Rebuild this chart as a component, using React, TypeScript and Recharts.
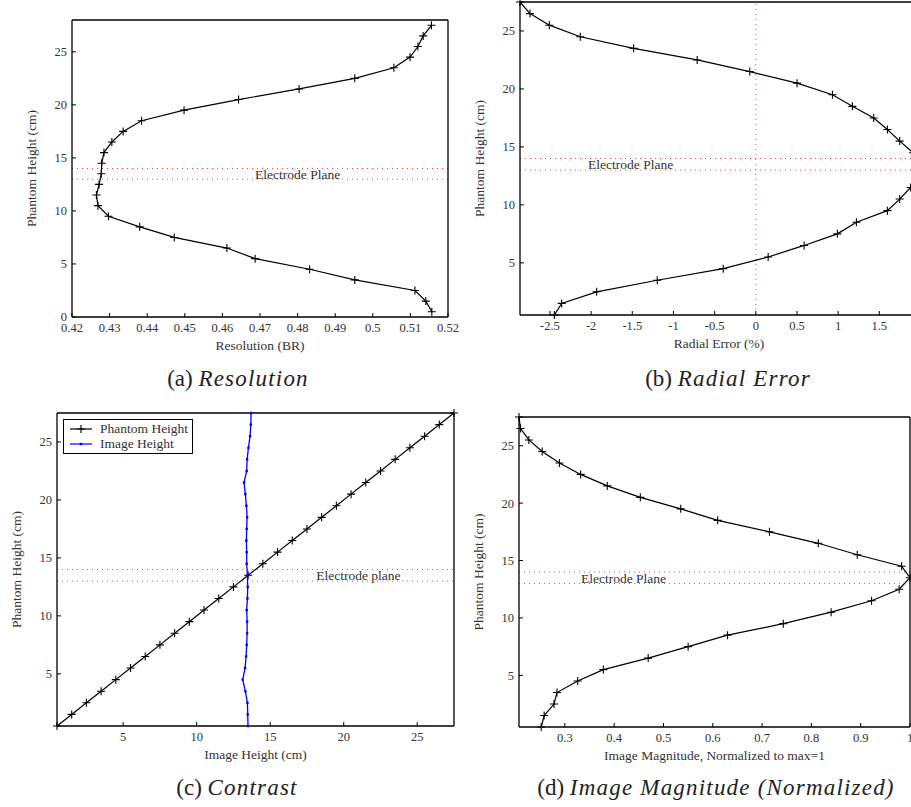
import { ScatterChart, Scatter, XAxis, YAxis, ReferenceLine, ReferenceDot, Legend } from 'recharts';

// phantom heights (cm), bottom to top
const heights = [
  0.5, 1.5, 2.5, 3.5, 4.5, 5.5, 6.5, 7.5, 8.5, 9.5, 10.5, 11.5, 12.5, 13.5,
  14.5, 15.5, 16.5, 17.5, 18.5, 19.5, 20.5, 21.5, 22.5, 23.5, 24.5, 25.5, 26.5, 27.5,
];

const resolution = [
  0.5157, 0.5141, 0.5112, 0.4952, 0.4832, 0.4687, 0.4612, 0.4472, 0.438, 0.4297,
  0.4269, 0.4265, 0.4272, 0.4278, 0.4279, 0.4285, 0.4306, 0.4336, 0.4385, 0.4498,
  0.4643, 0.4804, 0.4952, 0.5056, 0.5099, 0.512, 0.5134, 0.5156,
];

const radialError = [
  -2.447, -2.358, -1.933, -1.197, -0.396, 0.15, 0.587, 0.991, 1.222, 1.598,
  1.748, 1.88, 1.95, 1.97, 1.91, 1.748, 1.598, 1.432, 1.173, 0.931,
  0.501, -0.073, -0.712, -1.484, -2.132, -2.508, -2.743, -2.864,
];

const imageHeight = [
  13.49, 13.47, 13.45, 13.31, 13.13, 13.29, 13.36, 13.4, 13.43, 13.43,
  13.4, 13.45, 13.47, 13.45, 13.4, 13.4, 13.38, 13.4, 13.43, 13.38,
  13.31, 13.22, 13.4, 13.43, 13.52, 13.63, 13.68, 13.7,
];

const magnitude = [
  0.252, 0.258, 0.278, 0.284, 0.326, 0.378, 0.469, 0.55, 0.63, 0.743,
  0.84, 0.922, 0.978, 1.0, 0.983, 0.893, 0.814, 0.715, 0.61, 0.535,
  0.453, 0.386, 0.332, 0.289, 0.254, 0.227, 0.21, 0.207,
];

const heightTicks = [5, 10, 15, 20, 25];
const heightTicksA = [0, 5, 10, 15, 20, 25];
const resolutionTicks = [0.42, 0.43, 0.44, 0.45, 0.46, 0.47, 0.48, 0.49, 0.5, 0.51, 0.52];
const radialTicks = [-2.5, -2, -1.5, -1, -0.5, 0, 0.5, 1, 1.5];
const contrastTicks = [5, 10, 15, 20, 25];
const magnitudeTicks = [0.3, 0.4, 0.5, 0.6, 0.7, 0.8, 0.9, 1];
const contrastSeries = ['Phantom Height', 'Image Height'];

const FONT = '"Liberation Serif", "DejaVu Serif", serif';
const RED = '#ff4040';
const axisLine = { stroke: '#000', strokeWidth: 1.3 };
const tickLine = { stroke: '#000', strokeWidth: 1 };
const tickFont = { fontSize: 12.5, fill: '#333', fontFamily: FONT };

const toPoints = (xs: number[]) => xs.map((v, i) => ({ x: v, y: heights[i] }));

const Plus = (props: any) => {
  const { cx, cy } = props;
  if (cx == null || cy == null) return null;
  return (
    <path
      d={`M${cx - 4},${cy}H${cx + 4}M${cx},${cy - 4}V${cy + 4}`}
      stroke="#000"
      strokeWidth={1.1}
      fill="none"
    />
  );
};

const Dot = (props: any) => {
  const { cx, cy } = props;
  if (cx == null || cy == null) return null;
  return <rect x={cx - 1.2} y={cy - 1.2} width={2.4} height={2.4} fill="#0000ff" />;
};

const LegendBox = (props: any) => {
  const items = [...(props.payload || [])].sort(
    (a: any, b: any) => contrastSeries.indexOf(a.value) - contrastSeries.indexOf(b.value)
  );
  return (
    <div
      style={{
        border: '1.3px solid #000',
        background: '#fff',
        padding: '1px 4px 2px 6px',
        fontFamily: FONT,
        fontSize: 13.5,
        color: '#333',
        lineHeight: '15px',
      }}
    >
      {items.map((it: any) => (
        <div key={it.value} style={{ display: 'flex', alignItems: 'center' }}>
          <svg width={22} height={12} style={{ marginRight: 8 }}>
            <line x1={0} x2={22} y1={6} y2={6} stroke={it.color} strokeWidth={1.2} />
            {it.color === '#000' ? (
              <path d="M7,6H15M11,2V10" stroke="#000" strokeWidth={1.1} />
            ) : (
              <rect x={9.8} y={4.8} width={2.4} height={2.4} fill={it.color} />
            )}
          </svg>
          <span>{it.value}</span>
        </div>
      ))}
    </div>
  );
};

interface PanelProps {
  left: number;
  top: number;
  width: number;
  height: number;
  margin: { top: number; right: number; bottom: number; left: number };
  xDomain: number[];
  yDomain: number[];
  xTicks: number[];
  yTicks: number[];
  xLabel: string;
  planeLabel: string;
  planeX: number;
  zeroLine?: boolean;
  children?: any;
  legend?: boolean;
}

// axes are 1px thick, so margins are shrunk by 1 to keep the plot box in place
function Panel(p: PanelProps) {
  const m = {
    top: p.margin.top - 1,
    right: p.margin.right - 1,
    bottom: p.margin.bottom - 1,
    left: p.margin.left - 1,
  };
  return (
    <div style={{ position: 'absolute', left: p.left, top: p.top }}>
      <ScatterChart width={p.width} height={p.height} margin={m}>
        <XAxis
          type="number"
          dataKey="x"
          domain={p.xDomain}
          ticks={p.xTicks}
          interval={0}
          height={1}
          tickSize={-4}
          tickMargin={10}
          axisLine={axisLine}
          tickLine={tickLine}
          tick={tickFont}
          tickFormatter={(v: number) => String(v)}
          label={{
            value: p.xLabel,
            position: 'bottom',
            offset: 22,
            fill: '#333',
            fontSize: 13.5,
            fontFamily: FONT,
          }}
        />
        <YAxis
          type="number"
          dataKey="y"
          domain={p.yDomain}
          ticks={p.yTicks}
          interval={0}
          width={1}
          tickSize={-4}
          tickMargin={9}
          axisLine={axisLine}
          tickLine={tickLine}
          tick={tickFont}
          tickFormatter={(v: number) => String(v)}
          label={{
            value: 'Phantom Height (cm)',
            angle: -90,
            position: 'left',
            offset: 40,
            fill: '#333',
            fontSize: 13.5,
            fontFamily: FONT,
            style: { textAnchor: 'middle' },
          }}
        />
        <XAxis
          xAxisId="top"
          orientation="top"
          type="number"
          domain={p.xDomain}
          ticks={p.xTicks}
          interval={0}
          height={1}
          tickSize={-4}
          tick={false}
          axisLine={axisLine}
          tickLine={tickLine}
        />
        <YAxis
          yAxisId="right"
          orientation="right"
          type="number"
          domain={p.yDomain}
          ticks={p.yTicks}
          interval={0}
          width={1}
          tickSize={-4}
          tick={false}
          axisLine={axisLine}
          tickLine={tickLine}
        />
        <ReferenceLine y={13} stroke={RED} strokeWidth={1} strokeDasharray="1 4" />
        <ReferenceLine y={14} stroke={RED} strokeWidth={1} strokeDasharray="1 4" />
        {p.zeroLine && <ReferenceLine x={0} stroke={RED} strokeWidth={1} strokeDasharray="1 4" />}
        <ReferenceDot
          x={p.planeX}
          y={13.5}
          r={0}
          fill="none"
          stroke="none"
          label={{ value: p.planeLabel, position: 'center', fill: '#333', fontSize: 13.5, fontFamily: FONT }}
        />
        {p.children}
        {p.legend && (
          <Legend
            layout="horizontal"
            verticalAlign="middle"
            align="center"
            wrapperStyle={{ left: 63, top: 19, width: 'auto' }}
            content={<LegendBox />}
          />
        )}
      </ScatterChart>
    </div>
  );
}

const Caption = ({ x, y, tag, text }: { x: number; y: number; tag: string; text: string }) => (
  <div
    style={{
      position: 'absolute',
      left: x - 250,
      top: y - 14,
      width: 500,
      textAlign: 'center',
      fontFamily: FONT,
      fontSize: 23,
      lineHeight: '28px',
      color: '#222',
      whiteSpace: 'nowrap',
    }}
  >
    {tag} <i style={{ letterSpacing: 1.2 }}>{text}</i>
  </div>
);

export default function App() {
  const resPts = toPoints(resolution);
  const errPts = toPoints(radialError);
  const phantomPts = heights.map((h) => ({ x: h, y: h }));
  const imgPts = toPoints(imageHeight);
  const magPts = toPoints(magnitude);

  return (
    <div
      style={{
        position: 'absolute',
        left: 0,
        top: 0,
        width: 911,
        height: 807,
        overflow: 'hidden',
        background: '#fff',
      }}
    >
      <Panel
        left={0}
        top={0}
        width={475}
        height={400}
        margin={{ top: 20, right: 27, bottom: 83, left: 72 }}
        xDomain={[0.42, 0.52]}
        yDomain={[0, 28]}
        xTicks={resolutionTicks}
        yTicks={heightTicksA}
        xLabel="Resolution (BR)"
        planeLabel="Electrode Plane"
        planeX={0.48}
      >
        <Scatter
          data={resPts}
          line={{ stroke: '#000', strokeWidth: 1.2 }}
          shape={<Plus />}
          fill="#000"
          isAnimationActive={false}
        />
      </Panel>

      <Panel
        left={455}
        top={0}
        width={500}
        height={400}
        margin={{ top: 2, right: 37, bottom: 85, left: 65 }}
        xDomain={[Math.min(...radialError), Math.max(...radialError)]}
        yDomain={[0.5, 27.5]}
        xTicks={radialTicks}
        yTicks={heightTicks}
        xLabel="Radial Error (%)"
        planeLabel="Electrode Plane"
        planeX={-1.52}
        zeroLine
      >
        <Scatter
          data={errPts}
          line={{ stroke: '#000', strokeWidth: 1.2 }}
          shape={<Plus />}
          fill="#000"
          isAnimationActive={false}
        />
      </Panel>

      <Panel
        left={0}
        top={400}
        width={470}
        height={407}
        margin={{ top: 13, right: 16, bottom: 81, left: 57 }}
        xDomain={[0.5, 27.5]}
        yDomain={[0.5, 27.5]}
        xTicks={contrastTicks}
        yTicks={heightTicks}
        xLabel="Image Height (cm)"
        planeLabel="Electrode plane"
        planeX={21}
        legend
      >
        <Scatter
          name="Phantom Height"
          data={phantomPts}
          line={{ stroke: '#000', strokeWidth: 1.2 }}
          shape={<Plus />}
          fill="#000"
          isAnimationActive={false}
        />
        <Scatter
          name="Image Height"
          data={imgPts}
          line={{ stroke: '#0000ff', strokeWidth: 1.3 }}
          shape={<Dot />}
          fill="#0000ff"
          isAnimationActive={false}
        />
      </Panel>

      <Panel
        left={455}
        top={400}
        width={475}
        height={407}
        margin={{ top: 17, right: 20, bottom: 80, left: 64 }}
        xDomain={[Math.min(...magnitude), 1]}
        yDomain={[0.5, 27.5]}
        xTicks={magnitudeTicks}
        yTicks={heightTicks}
        xLabel="Image Magnitude, Normalized to max=1"
        planeLabel="Electrode Plane"
        planeX={0.419}
      >
        <Scatter
          data={magPts}
          line={{ stroke: '#000', strokeWidth: 1.2 }}
          shape={<Plus />}
          fill="#000"
          isAnimationActive={false}
        />
      </Panel>

      <Caption x={238} y={379} tag="(a)" text="Resolution" />
      <Caption x={728} y={379} tag="(b)" text="Radial Error" />
      <Caption x={237} y={788} tag="(c)" text="Contrast" />
      <Caption x={716} y={788} tag="(d)" text="Image Magnitude (Normalized)" />
    </div>
  );
}
